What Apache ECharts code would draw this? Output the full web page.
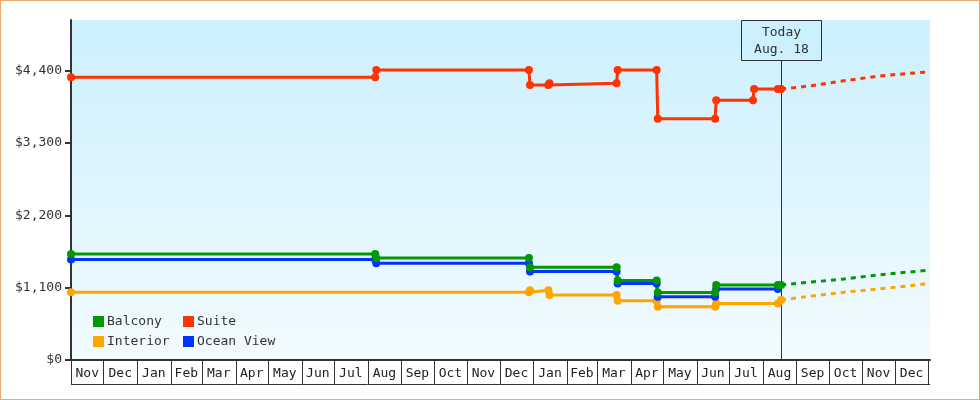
<!DOCTYPE html>
<html><head><meta charset="utf-8">
<script src="https://cdn.jsdelivr.net/npm/echarts@6/dist/echarts.min.js"></script>
<style>
html,body{margin:0;padding:0;background:#fff;}
#wrap{position:relative;width:980px;height:400px;}
#chart{position:absolute;left:0;top:0;width:980px;height:400px;}
#frame{position:absolute;left:0;top:0;width:980px;height:400px;box-sizing:border-box;border:1px solid #eeaa66;pointer-events:none;}
</style></head><body>
<div id="wrap"><div id="chart"></div><div id="frame"></div></div>
<script>
// ---- data ----
const monthLabels = ['Nov','Dec','Jan','Feb','Mar','Apr','May','Jun','Jul','Aug','Sep','Oct',
  'Nov','Dec','Jan','Feb','Mar','Apr','May','Jun','Jul','Aug','Sep','Oct','Nov','Dec'];
const firstMonth = [2015, 10]; // Nov 2015 (JS month index)
const yTicks = [0, 1100, 2200, 3300, 4400];
const yMax = 5170;
const todayDate = '2017-08-18';
const todayText = ['Today', 'Aug. 18'];

const balcony = [['2015-11-01',1610],['2016-08-08',1610],['2016-08-09',1550],['2016-12-28',1550],['2016-12-29',1410],
  ['2017-03-19',1410],['2017-03-20',1210],['2017-04-25',1210],['2017-04-26',1025],['2017-06-18',1025],['2017-06-19',1140],['2017-08-15',1140]];
const suite = [['2015-11-01',4300],['2016-08-08',4300],['2016-08-09',4410],['2016-12-28',4410],['2016-12-29',4180],
  ['2017-01-15',4180],['2017-01-16',4210],['2017-03-19',4210],['2017-03-20',4410],['2017-04-25',4410],['2017-04-26',3670],
  ['2017-06-18',3670],['2017-06-19',3950],['2017-07-23',3950],['2017-07-24',4120],['2017-08-15',4120]];
const interior = [['2015-11-01',1030],['2016-12-28',1030],['2016-12-29',1060],['2017-01-15',1060],['2017-01-16',990],
  ['2017-03-19',990],['2017-03-20',900],['2017-04-25',900],['2017-04-26',810],['2017-06-18',810],['2017-06-19',860],['2017-08-15',860]];
const oceanView = [['2015-11-01',1530],['2016-08-08',1530],['2016-08-09',1470],['2016-12-28',1470],['2016-12-29',1345],
  ['2017-03-19',1345],['2017-03-20',1165],['2017-04-25',1165],['2017-04-26',960],['2017-06-18',960],['2017-06-19',1080],['2017-08-15',1080]];

const suiteForecast = [['2017-08-18',4120],['2017-09-15',4170],['2017-10-15',4245],['2017-11-15',4315],['2017-12-15',4360],['2018-01-01',4380]];
const balconyForecast = [['2017-08-18',1140],['2017-09-15',1186],['2017-10-15',1232],['2017-11-15',1293],['2017-12-15',1339],['2018-01-01',1364]];
const interiorForecast = [['2017-08-18',913],['2017-09-15',973],['2017-10-15',1030],['2017-11-15',1080],['2017-12-15',1130],['2018-01-01',1160]];

const colors = {Balcony:'#009900', Suite:'#ff3300', Interior:'#ffa500', 'Ocean View':'#0033ff'};

// ---- build ----
const FONT = '"DejaVu Sans Mono", monospace';
const monthStarts = monthLabels.map((_, i) => new Date(firstMonth[0], firstMonth[1] + i, 1).getTime());
const monthEnds = monthLabels.map((_, i) => new Date(firstMonth[0], firstMonth[1] + i + 1, 1).getTime());
const xMin = monthStarts[0];
const xMax = new Date(firstMonth[0], firstMonth[1] + monthLabels.length, 2, 12).getTime();

function mainSeries(name, data) {
  const c = colors[name];
  return {name, type:'line', data, symbol:'circle', symbolSize:8, showAllSymbol:true,
    lineStyle:{width:3, color:c}, itemStyle:{color:c}, z:3, emphasis:{disabled:true}};
}
function forecastSeries(name, data) {
  const c = colors[name];
  return {name, type:'line', data, symbol:'circle',
    symbolSize:(v, p) => (p.dataIndex === 0 ? 8 : 0),
    lineStyle:{width:3, color:c, type:[5,5]}, itemStyle:{color:c}, z:3, emphasis:{disabled:true}};
}
const px = v => Math.round(v) + 0.5;

const monthAxisSeries = {
  type:'custom', silent:true, z:1, clip:false,
  data: monthStarts.map((s, i) => [s, monthEnds[i], 0]),
  encode:{x:[0,1], y:2},
  renderItem:(params, api) => {
    const s = api.coord([api.value(0), 0]);
    let e = api.coord([api.value(1), 0]);
    const last = params.dataIndex === monthLabels.length - 1;
    const y0 = s[1], h = 25;
    const endX = last ? params.coordSys.x + params.coordSys.width : e[0];
    const children = [
      {type:'line', shape:{x1:px(s[0]), y1:y0, x2:px(s[0]), y2:y0+h}, style:{stroke:'#333', lineWidth:1}},
      {type:'line', shape:{x1:s[0], y1:px(y0+h-1), x2:endX, y2:px(y0+h-1)}, style:{stroke:'#333', lineWidth:1}},
      {type:'text', x:(s[0]+e[0])/2, y:y0 + h/2 + 1,
        style:{text:monthLabels[params.dataIndex], align:'center', verticalAlign:'middle', font:'13px ' + FONT, fill:'#222'}}
    ];
    if (last) children.push({type:'line', shape:{x1:px(e[0]), y1:y0, x2:px(e[0]), y2:y0+h}, style:{stroke:'#333', lineWidth:1}});
    return {type:'group', children};
  }
};

const todaySeries = {
  type:'custom', silent:true, z:1, clip:false,
  data:[[todayDate, 0]],
  encode:{x:0, y:1},
  renderItem:(params, api) => {
    const p = api.coord([api.value(0), 0]);
    const top = params.coordSys.y;
    const x = px(p[0]);
    return {type:'group', children:[
      {type:'line', shape:{x1:x, y1:top+40, x2:x, y2:p[1]}, style:{stroke:'#333', lineWidth:1}},
      {type:'rect', shape:{x:x-40, y:top+0.5, width:80, height:40}, style:{fill:'#ccf0fd', stroke:'#333', lineWidth:1}},
      {type:'text', x:x, y:top+13, style:{text:todayText[0], align:'center', verticalAlign:'middle', font:'13px ' + FONT, fill:'#333'}},
      {type:'text', x:x, y:top+30, style:{text:todayText[1], align:'center', verticalAlign:'middle', font:'13px ' + FONT, fill:'#333'}}
    ]};
  }
};

const legendCommon = {orient:'vertical', top:315, padding:0, itemWidth:11, itemHeight:11, itemGap:7,
  icon:'rect', selectedMode:false, textStyle:{fontFamily:FONT, fontSize:13, color:'#333', padding:[0,0,0,-2]}};

const chart = echarts.init(document.getElementById('chart'), null, {renderer:'canvas'});
chart.setOption({
  animation:false,
  grid:{left:71, right:50, top:20, bottom:40, show:true, borderWidth:0,
    backgroundColor:new echarts.graphic.LinearGradient(0,0,0,1,[{offset:0,color:'#ccf0fd'},{offset:1,color:'#f2fbff'}])},
  legend:[
    Object.assign({}, legendCommon, {left:93, data:['Balcony','Interior']}),
    Object.assign({}, legendCommon, {left:183, data:['Suite','Ocean View']})
  ],
  xAxis:{type:'time', min:xMin, max:xMax,
    axisLine:{show:true, onZero:false, lineStyle:{color:'#333', width:2}},
    axisTick:{show:false}, axisLabel:{show:false}, splitLine:{show:false}},
  yAxis:{type:'value', min:0, max:yMax,
    axisLine:{show:true, lineStyle:{color:'#333', width:2}},
    axisTick:{show:true, length:6, lineStyle:{color:'#333', width:2}, customValues:yTicks},
    axisLabel:{customValues:yTicks, color:'#333', fontFamily:FONT, fontSize:13, margin:9,
      formatter:v => '$' + Number(v).toLocaleString('en-US')},
    splitLine:{show:false}},
  series:[
    monthAxisSeries,
    todaySeries,
    mainSeries('Interior', interior),
    mainSeries('Ocean View', oceanView),
    mainSeries('Balcony', balcony),
    mainSeries('Suite', suite),
    forecastSeries('Interior', interiorForecast),
    forecastSeries('Balcony', balconyForecast),
    forecastSeries('Suite', suiteForecast)
  ]
});
</script>
</body></html>
